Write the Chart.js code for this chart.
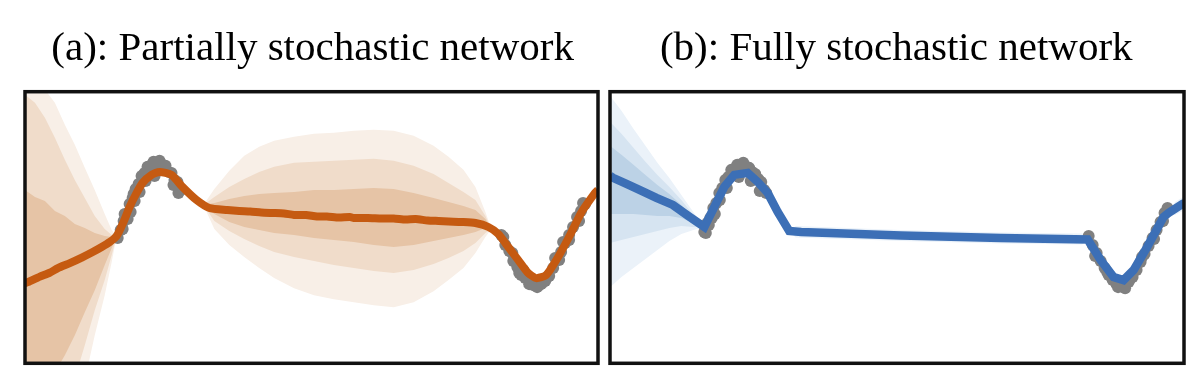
<!DOCTYPE html>
<html>
<head>
<meta charset="utf-8">
<title>Partially vs fully stochastic network</title>
<script src="https://cdn.jsdelivr.net/npm/chart.js@4.4.1/dist/chart.umd.min.js"></script>
<style>
    html, body { margin: 0; padding: 0; background: #ffffff; }
    #wrap { position: relative; width: 1200px; height: 390px; }
    #chart-a { position: absolute; left: 0; top: 0; }
    #chart-b { position: absolute; left: 604px; top: 0; }
</style>
</head>
<body>
<div id="wrap">
    <canvas id="chart-a" width="604" height="390"></canvas>
    <canvas id="chart-b" width="596" height="390"></canvas>
</div>
<script>
// ---- (a) partially stochastic network ----
// predictive mean [x, y]
const meanA = [
    [0, -5.6], [0.3, -5.5], [1.5, -4.95], [2.5, -4.55], [3.3, -4.1], [4.5, -3.6], [5.7, -3.05],
    [6.7, -2.55], [7.7, -2.0], [8.5, -1.5], [9.2, -0.9], [9.8, 0.3], [10.5, 2.0], [11.2, 3.4],
    [11.8, 4.4], [12.7, 5.2], [13.5, 5.5], [14.7, 5.2], [15.8, 4.0], [17.2, 2.7], [18.5, 1.9],
    [20.3, 1.7], [21.5, 1.6], [22.6, 1.55], [23.7, 1.45], [24.8, 1.4], [26.0, 1.35], [27.0, 1.2],
    [28.2, 1.2], [29.3, 1.05], [30.3, 1.05], [31.5, 0.95], [32.6, 1.0], [33.0, 0.9], [34.4, 0.9],
    [35.8, 0.85], [37.0, 0.85], [38.2, 0.75], [39.2, 0.8], [40.4, 0.65], [41.5, 0.6], [42.5, 0.55],
    [43.8, 0.5], [45.2, 0.4], [46.5, 0.0], [47.5, -0.7], [48.5, -2.0], [49.5, -3.3], [50.5, -4.6],
    [51.3, -5.1], [52.3, -4.8], [53.5, -3.0], [54.8, -0.6], [55.8, 1.4], [57.2, 3.4], [57.5, 3.7]
];
// training observations [x, y]
const obsA = [
    [9.3, -1.1], [9.6, -0.3], [9.9, 0.6], [10.2, 1.2], [10.5, 2.3], [10.8, 2.9], [11.1, 3.8],
    [11.4, 4.3], [11.7, 5.1], [12.0, 5.4], [12.3, 6.0], [12.6, 6.1], [12.9, 6.5], [13.2, 6.3],
    [13.5, 6.6], [13.8, 6.2], [14.1, 6.1], [14.4, 5.5], [14.7, 5.4], [15.0, 4.7], [15.3, 4.5],
    [15.6, 3.7], [10.6, 1.5], [11.5, 3.5], [9.8, -0.2], [10.3, 0.8], [11.0, 2.6], [12.1, 4.6],
    [14.9, 4.2], [15.4, 3.4], [13.0, 5.1], [10.0, 1.3], [10.9, 3.3],
    [47.8, -0.8], [48.2, -1.8], [48.6, -2.4], [49.0, -3.4], [49.4, -4.0], [49.8, -4.8],
    [50.2, -5.1], [50.6, -5.7], [51.0, -5.8], [51.4, -6.0], [51.8, -5.7], [52.2, -5.4],
    [52.6, -4.9], [53.0, -4.1], [53.4, -3.3], [53.8, -2.5], [54.2, -1.6], [54.6, -0.8],
    [55.0, 0.0], [55.4, 1.0], [55.8, 1.6], [56.2, 2.3], [48.0, -1.0], [48.9, -2.6],
    [50.0, -4.3], [51.2, -5.4], [52.4, -5.0], [53.6, -3.3], [54.6, -1.3], [55.6, 0.6],
    [49.6, -4.6], [53.2, -3.1], [54.0, -1.5], [56.0, 2.4]
];
// uncertainty bands [x, low, high]
const innerA = [
    [0, -19.3, 3.7], [1, -17.8, 3.0], [2, -16.3, 2.6], [3, -14.5, 1.6], [4, -12.8, 1.1],
    [5, -10.8, 0.3], [6, -8.5, -0.1], [7, -6.3, -0.6], [8, -3.8, -0.9], [8.7, -2.1, -1.0],
    [9.2, -0.9, -0.9],
    [17.9, 2.2, 2.2], [19, 1.3, 2.4], [20.5, 0.5, 2.8], [22, 0.0, 3.1], [23.5, -0.3, 3.3],
    [25, -0.6, 3.4], [27, -0.8, 3.5], [29, -1.1, 3.7], [31, -1.3, 3.7], [33, -1.5, 3.8],
    [35, -1.8, 3.9], [37, -2.0, 3.8], [39, -1.8, 3.4], [41, -1.4, 2.9], [42.5, -1.1, 2.5],
    [44, -0.8, 2.1], [45.2, -0.5, 1.7], [46.2, -0.1, 0.8], [46.8, -0.2, -0.2]
];
const midA = [
    [0, -25.3, 13.2], [1, -23.3, 12.4], [2, -21.3, 10.9], [3, -19.3, 8.9], [4, -17.3, 6.7],
    [5, -15.1, 4.7], [6, -11.8, 2.9], [7, -8.3, 1.1], [8, -5.3, -0.2], [8.7, -2.8, -0.8],
    [9.2, -0.9, -0.9],
    [17.9, 2.2, 2.2], [19, 0.6, 3.0], [20.5, -0.4, 4.0], [22, -1.2, 4.8], [23.5, -1.9, 5.5],
    [25, -2.5, 6.0], [27, -3.0, 6.4], [29, -3.4, 6.5], [31, -3.8, 6.6], [33, -4.1, 6.7],
    [35, -4.4, 6.8], [37, -4.6, 6.6], [39, -4.3, 6.1], [41, -3.7, 5.3], [42.5, -3.1, 4.4],
    [44, -2.4, 3.5], [45.2, -1.6, 2.7], [46.2, -0.6, 1.1], [46.8, -0.2, -0.2]
];
const outerA = [
    [0, -31.3, 17.2], [1, -29.3, 15.5], [2, -27.3, 13.7], [3, -24.3, 12.4], [4, -21.3, 10.2],
    [5, -18.3, 8.2], [6, -15.3, 5.9], [7, -10.8, 3.7], [8, -6.8, 1.3], [8.7, -3.5, -0.3],
    [9.2, -0.9, -0.9],
    [17.9, 2.2, 2.2], [19, -0.2, 3.8], [20.5, -1.8, 5.6], [22, -3.0, 7.1], [23.5, -4.1, 8.0],
    [25, -5.1, 8.6], [27, -6.1, 9.0], [29, -6.8, 9.3], [31, -7.2, 9.4], [33, -7.5, 9.6],
    [35, -7.8, 9.7], [37, -8.0, 9.6], [39, -7.5, 9.1], [41, -6.4, 8.1], [42.5, -5.3, 7.0],
    [44, -4.1, 5.7], [45.2, -2.6, 4.0], [46.2, -1.0, 1.5], [46.8, -0.2, -0.2]
];

// ---- (b) fully stochastic network ----
const meanB = [
    [0, 5.1], [0.3, 4.9], [1.65, 4.3], [2.95, 3.7], [4.65, 2.9], [6.3, 2.2], [7.85, 1.1],
    [9.45, 0.0], [10.45, 2.0], [11.45, 4.0], [12.45, 5.2], [13.8, 5.4], [14.8, 4.5], [15.8, 3.4],
    [16.8, 1.5], [17.95, -0.4], [19.15, -0.5], [29.15, -0.85], [39.15, -1.1], [47.85, -1.25],
    [49.15, -3.3], [50.45, -5.0], [51.45, -5.3], [52.45, -4.3], [53.8, -2.0], [55.45, 1.0],
    [55.95, 1.4], [57.35, 2.3], [57.55, 2.4]
];
const obsB = [
    [9.45, -0.5], [9.75, 0.4], [10.05, 0.9], [10.35, 1.9], [10.65, 2.4], [10.95, 3.4],
    [11.25, 3.9], [11.55, 4.7], [11.85, 5.0], [12.15, 5.7], [12.45, 5.8], [12.75, 6.2],
    [13.05, 6.2], [13.35, 6.4], [13.65, 6.0], [13.95, 5.9], [14.25, 5.5], [14.55, 5.3],
    [14.85, 4.8], [15.15, 4.5], [15.45, 3.7], [15.65, 3.4], [10.2, 0.9], [11.0, 2.7], [11.7, 3.9],
    [9.6, -0.6], [10.5, 1.3], [12.9, 5.0], [14.1, 4.6], [15.0, 3.6], [9.9, 0.2],
    [47.95, -0.9], [48.35, -1.8], [48.75, -2.6], [49.15, -3.4], [49.55, -4.1], [49.95, -4.8],
    [50.35, -5.3], [50.75, -5.7], [51.15, -5.9], [51.55, -5.8], [51.95, -5.5], [52.35, -5.0],
    [52.75, -4.3], [53.15, -3.5], [53.55, -2.7], [53.95, -1.9], [54.35, -1.1], [54.75, -0.3],
    [55.15, 0.5], [55.55, 1.4], [55.85, 1.9], [48.6, -2.9], [49.8, -4.5], [50.9, -6.0],
    [52.1, -5.2], [53.3, -3.0], [54.5, -1.2], [55.4, 0.6], [51.6, -6.1]
];
const innerB = [
    [0, 1.3, 8.1], [1.15, 1.3, 7.2], [2.35, 1.3, 6.2], [3.55, 1.2, 5.2], [4.75, 1.1, 4.2],
    [5.95, 1.1, 3.3], [7.15, 0.9, 2.2], [8.35, 0.4, 1.0], [9.45, 0, 0]
];
const midB = [
    [0, -1.6, 10.5], [1.15, -1.3, 9.3], [2.35, -1.0, 7.9], [3.55, -0.7, 6.5], [4.75, -0.4, 5.2],
    [5.95, -0.1, 4.0], [7.15, 0.1, 2.7], [8.35, 0.0, 1.2], [9.45, 0, 0]
];
const outerB = [
    [0, -6.0, 13.1], [1.15, -5.0, 11.6], [2.35, -4.1, 9.8], [3.55, -3.2, 8.1], [4.75, -2.3, 6.4],
    [5.95, -1.4, 4.9], [7.15, -0.7, 3.2], [8.35, -0.3, 1.5], [9.45, 0, 0],
    [17.95, -0.4, -0.4], [18.6, -1.05, 0.1], [29.15, -1.4, -0.3], [39.15, -1.65, -0.55],
    [47.3, -1.75, -0.65], [47.85, -1.25, -1.25], [55.95, 1.4, 1.4], [56.6, 1.2, 2.5], [57.55, 1.7, 3.1]
];

const TITLE_FONT = "'Liberation Serif', 'Times New Roman', Times, serif";

// Draw the black box around each panel
const framePlugin = {
    id: 'frame',
    afterDraw(chart) {
        const { ctx, chartArea: a } = chart;
        ctx.save();
        ctx.lineWidth = 3.5;
        ctx.strokeStyle = '#111111';
        ctx.strokeRect(a.left, a.top, a.right - a.left, a.bottom - a.top);
        ctx.restore();
    }
};

function toPoints(rows, col) {
    return rows.map(r => ({ x: r[0], y: r[col] }));
}

// Two datasets per band: upper edge, then lower edge filled up to it
function bandDatasets(rows, color, order) {
    return [
        { data: toPoints(rows, 2), borderColor: 'rgba(0,0,0,0)', borderWidth: 0,
          pointRadius: 0, fill: false, tension: 0, order: order },
        { data: toPoints(rows, 1), borderColor: 'rgba(0,0,0,0)', borderWidth: 0,
          pointRadius: 0, fill: '-1', backgroundColor: color, tension: 0, order: order }
    ];
}

function createPanel(canvasId, p) {
    const ctx = document.getElementById(canvasId);
    return new Chart(ctx, {
        type: 'line',
        data: {
            datasets: [
                { data: toPoints(p.mean, 1), borderColor: p.lineColor, borderWidth: p.lineWidth,
                  pointRadius: 0, fill: false, tension: p.tension, order: 0 },
                { data: toPoints(p.obs, 1), showLine: false, pointRadius: 6,
                  pointBackgroundColor: '#808080', pointBorderWidth: 0, borderColor: '#808080', order: 1 },
                ...bandDatasets(p.inner, p.bands[0], 2),
                ...bandDatasets(p.mid, p.bands[1], 3),
                ...bandDatasets(p.outer, p.bands[2], 4)
            ]
        },
        options: {
            responsive: false,
            animation: false,
            events: [],
            layout: { padding: p.padding },
            plugins: {
                legend: { display: false },
                tooltip: { enabled: false },
                title: {
                    display: true,
                    text: p.title,
                    color: '#000000',
                    font: { family: TITLE_FONT, size: 41, weight: 'normal' },
                    padding: { top: 25, bottom: 17.5 }
                }
            },
            scales: {
                x: { type: 'linear', min: 0, max: 57.5, display: false },
                y: { type: 'linear', min: -13.6, max: 13.5, display: false }
            }
        },
        plugins: [framePlugin]
    });
}

function drawAll() {
    createPanel('chart-a', {
        title: '(a): Partially stochastic network',
        mean: meanA, obs: obsA, inner: innerA, mid: midA, outer: outerA,
        lineColor: '#c55a11', lineWidth: 8, tension: 0.2,
        bands: ['#e6c4a6', '#f0dcca', '#f8efe7'],
        padding: { left: 25, right: 3.7, top: 0, bottom: 26.7 }
    });

    createPanel('chart-b', {
        title: '(b): Fully stochastic network',
        mean: meanB, obs: obsB, inner: innerB, mid: midB, outer: outerB,
        lineColor: '#3c6fb6', lineWidth: 8.5, tension: 0,
        bands: ['#bcd2e6', '#d6e4f1', '#ebf2f9'],
        padding: { left: 4.5, right: 16, top: 0, bottom: 26.7 }
    });
}

// Make sure the serif face is ready before the canvas uses it
document.fonts.load('41px "Liberation Serif"').then(drawAll, drawAll);
</script>
</body>
</html>
